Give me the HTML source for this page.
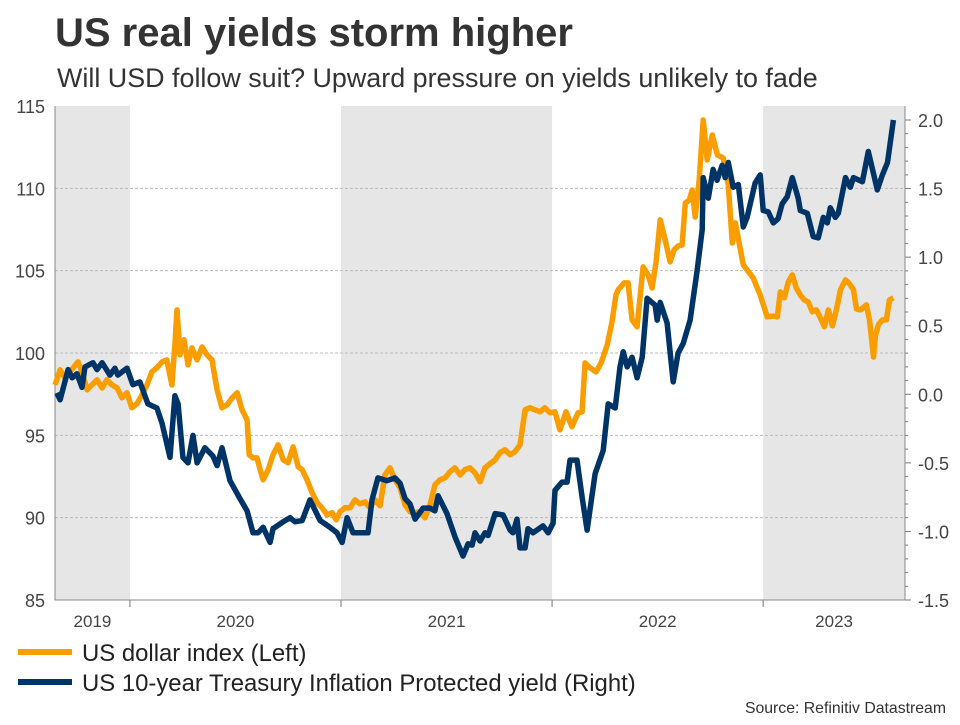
<!DOCTYPE html>
<html><head><meta charset="utf-8"><style>
body{margin:0;background:#fff;width:960px;height:720px;overflow:hidden;font-family:"Liberation Sans",sans-serif}
</style></head><body>
<svg id="chart" width="960" height="720" viewBox="0 0 960 720" xmlns="http://www.w3.org/2000/svg" font-family="Liberation Sans, sans-serif">
<text x="55" y="46" font-size="40" font-weight="bold" fill="#333">US real yields storm higher</text>
<text x="57" y="87" font-size="26.9" fill="#333">Will USD follow suit? Upward pressure on yields unlikely to fade</text>
<g id="plot"></g>
<g>
<line x1="18" y1="652" x2="72" y2="652" stroke="#f99d00" stroke-width="6"/>
<text x="82" y="661" font-size="23.9" fill="#222">US dollar index (Left)</text>
<line x1="18" y1="682" x2="72" y2="682" stroke="#003466" stroke-width="6"/>
<text x="82" y="691" font-size="23.9" fill="#222">US 10-year Treasury Inflation Protected yield (Right)</text>
</g>
<text x="946" y="713" font-size="15.8" fill="#333" text-anchor="end">Source: Refinitiv Datastream</text>
</svg>
<script>
const usdDates=[2019.645,2019.669,2019.692,2019.716,2019.754,2019.773,2019.797,2019.820,2019.844,2019.868,2019.891,2019.915,2019.939,2019.962,2019.986,2020.009,2020.033,2020.057,2020.081,2020.104,2020.128,2020.152,2020.175,2020.199,2020.213,2020.223,2020.237,2020.256,2020.275,2020.294,2020.318,2020.342,2020.365,2020.389,2020.413,2020.436,2020.460,2020.484,2020.508,2020.531,2020.555,2020.565,2020.583,2020.602,2020.617,2020.631,2020.655,2020.678,2020.702,2020.726,2020.749,2020.773,2020.797,2020.816,2020.839,2020.863,2020.887,2020.910,2020.934,2020.958,2020.977,2020.995,2021.019,2021.043,2021.066,2021.090,2021.114,2021.137,2021.161,2021.185,2021.208,2021.232,2021.256,2021.280,2021.303,2021.327,2021.351,2021.374,2021.398,2021.422,2021.445,2021.469,2021.493,2021.516,2021.540,2021.564,2021.587,2021.611,2021.635,2021.659,2021.682,2021.706,2021.730,2021.753,2021.777,2021.801,2021.824,2021.848,2021.872,2021.895,2021.919,2021.943,2021.966,2021.990,2022.014,2022.037,2022.066,2022.094,2022.123,2022.142,2022.156,2022.180,2022.208,2022.232,2022.261,2022.284,2022.303,2022.313,2022.341,2022.360,2022.379,2022.403,2022.431,2022.455,2022.474,2022.493,2022.512,2022.536,2022.559,2022.578,2022.597,2022.616,2022.631,2022.650,2022.664,2022.678,2022.697,2022.716,2022.735,2022.759,2022.783,2022.811,2022.835,2022.854,2022.868,2022.906,2022.953,2022.986,2023.019,2023.048,2023.067,2023.081,2023.100,2023.119,2023.138,2023.157,2023.176,2023.195,2023.214,2023.233,2023.252,2023.271,2023.290,2023.309,2023.328,2023.347,2023.366,2023.390,2023.409,2023.428,2023.442,2023.461,2023.489,2023.504,2023.523,2023.532,2023.546,2023.565,2023.584,2023.598,2023.617];
const usdValues=[98.06,98.98,98.49,98.85,99.46,98.85,97.76,98.06,98.37,97.88,98.37,98.06,97.88,97.28,97.58,96.67,96.91,97.46,98.06,98.85,99.10,99.46,99.58,98.06,100.49,102.62,99.89,100.80,99.28,100.31,99.58,100.37,99.89,99.58,97.76,96.67,96.85,97.28,97.58,96.55,95.94,93.82,93.63,93.63,92.91,92.30,92.91,93.82,94.42,93.51,93.33,94.30,93.09,92.91,92.30,91.51,90.90,90.60,90.17,90.30,89.87,90.36,90.60,90.60,91.08,90.84,90.96,90.60,91.08,90.72,92.60,93.03,92.30,91.81,90.78,90.36,90.30,90.36,89.99,90.78,91.99,92.30,92.42,92.78,93.03,92.60,92.91,93.03,92.72,92.18,93.03,93.27,93.51,93.94,94.12,93.82,94.00,94.42,96.55,96.67,96.55,96.43,96.67,96.37,96.43,95.33,96.43,95.52,96.37,96.43,99.40,99.10,98.85,99.40,100.49,101.89,103.53,103.83,104.26,104.26,102.01,101.59,105.23,104.74,103.95,105.53,108.08,106.87,105.53,106.26,106.50,106.56,109.11,109.29,109.90,108.26,110.51,114.15,111.72,113.24,112.03,111.84,110.20,106.68,107.90,105.35,104.56,103.53,102.19,102.25,102.19,103.71,103.35,104.32,104.74,103.95,103.53,103.22,103.10,102.50,102.62,102.13,101.59,102.62,101.65,102.62,103.83,104.44,104.20,103.83,102.68,102.62,102.92,102.01,99.76,101.04,101.71,102.01,102.01,103.22,103.35];
const tipsDates=[2019.654,2019.669,2019.707,2019.726,2019.749,2019.773,2019.787,2019.825,2019.844,2019.868,2019.905,2019.929,2019.943,2019.986,2020.014,2020.047,2020.085,2020.128,2020.152,2020.190,2020.213,2020.228,2020.251,2020.275,2020.299,2020.318,2020.355,2020.393,2020.413,2020.436,2020.474,2020.521,2020.555,2020.583,2020.607,2020.631,2020.664,2020.678,2020.726,2020.759,2020.782,2020.816,2020.853,2020.901,2020.948,2020.981,2021.005,2021.029,2021.057,2021.104,2021.128,2021.147,2021.175,2021.218,2021.256,2021.280,2021.303,2021.327,2021.351,2021.389,2021.422,2021.445,2021.460,2021.502,2021.540,2021.578,2021.602,2021.621,2021.635,2021.659,2021.682,2021.697,2021.730,2021.768,2021.801,2021.815,2021.834,2021.848,2021.872,2021.886,2021.910,2021.957,2021.981,2022.005,2022.014,2022.047,2022.071,2022.085,2022.118,2022.142,2022.166,2022.204,2022.242,2022.266,2022.299,2022.322,2022.337,2022.356,2022.379,2022.403,2022.427,2022.450,2022.488,2022.498,2022.512,2022.545,2022.574,2022.597,2022.621,2022.654,2022.687,2022.711,2022.716,2022.740,2022.763,2022.782,2022.806,2022.820,2022.835,2022.858,2022.882,2022.906,2022.924,2022.962,2022.986,2023.000,2023.024,2023.048,2023.071,2023.090,2023.114,2023.138,2023.166,2023.176,2023.209,2023.237,2023.261,2023.285,2023.304,2023.318,2023.342,2023.356,2023.390,2023.413,2023.428,2023.470,2023.498,2023.541,2023.565,2023.589,2023.617];
const tipsValues=[0.01,-0.04,0.18,0.12,0.15,0.05,0.20,0.23,0.18,0.23,0.14,0.19,0.14,0.19,0.07,0.09,-0.07,-0.10,-0.21,-0.46,-0.01,-0.07,-0.46,-0.50,-0.30,-0.50,-0.39,-0.45,-0.52,-0.39,-0.63,-0.76,-0.85,-1.01,-1.01,-0.97,-1.08,-0.98,-0.93,-0.90,-0.93,-0.92,-0.77,-0.92,-0.97,-1.01,-1.08,-0.90,-1.01,-1.01,-1.01,-0.77,-0.61,-0.63,-0.61,-0.65,-0.76,-0.80,-0.91,-0.83,-0.83,-0.85,-0.74,-0.87,-1.04,-1.18,-1.09,-1.10,-1.01,-1.07,-1.01,-1.03,-0.87,-0.88,-0.99,-1.01,-0.91,-1.12,-1.12,-0.98,-1.01,-0.96,-1.01,-0.94,-0.70,-0.64,-0.64,-0.48,-0.48,-0.75,-0.99,-0.58,-0.41,-0.07,-0.10,0.20,0.31,0.20,0.27,0.12,0.27,0.70,0.65,0.54,0.67,0.52,0.09,0.30,0.37,0.54,0.90,1.20,1.58,1.43,1.64,1.56,1.67,1.58,1.69,1.51,1.53,1.22,1.29,1.54,1.60,1.34,1.33,1.25,1.28,1.39,1.44,1.58,1.43,1.34,1.32,1.15,1.14,1.29,1.25,1.36,1.29,1.32,1.58,1.51,1.58,1.55,1.77,1.49,1.60,1.69,2.00];
const leftTicks=[85,90,95,100,105,110,115];
const rightTicks=[-1.5,-1.0,-0.5,0.0,0.5,1.0,1.5,2.0];
const rightTickLabels=["-1.5","-1.0","-0.5","0.0","0.5","1.0","1.5","2.0"];
const yearLabels=["2019","2020","2021","2022","2023"];
const yearStarts=[2019,2020,2021,2022,2023];
const shadedYears=[2019,2021,2023];

const L=55,R=905,T=106,B=600,x0=2019.645,x1=2023.672;
const xs=t=>L+(t-x0)/(x1-x0)*(R-L);
const yl=v=>B-(v-85)/30*(B-T);
const yr=v=>B-(v+1.5)/3.5*(B-120);
const NS='http://www.w3.org/2000/svg';
const g=document.getElementById('plot');
function mk(tag,attrs){const e=document.createElementNS(NS,tag);for(const k in attrs)e.setAttribute(k,attrs[k]);g.appendChild(e);return e;}
shadedYears.forEach(yy=>{
  const a=Math.max(L,xs(yy)),b=Math.min(R,xs(yy+1));
  const r=mk('rect',{x:a,y:T,width:b-a,height:B-T,fill:'#e6e6e6'});
  
  
});
leftTicks.forEach((v,i)=>{
  if(v>85&&v<115){const l=mk('line',{x1:L,x2:R,y1:yl(v),y2:yl(v),stroke:'#bbb','stroke-dasharray':'3,2','stroke-width':1});
  
  }
  const t=mk('text',{x:45,y:yl(v)+7,'font-size':18,fill:'#444','text-anchor':'end'});t.textContent=v;
  
  
});
rightTicks.forEach((v,i)=>{
  const t=mk('text',{x:918,y:yr(v)+7,'font-size':18,fill:'#444'});t.textContent=rightTickLabels[i];
  
  
  const k=mk('line',{x1:R,x2:R+6,y1:yr(v),y2:yr(v),stroke:'#777'});
  
  
  if(i<rightTicks.length-1){for(let j=1;j<5;j++){const m=mk('line',{x1:R,x2:R+3,y1:yr(v+j*0.1),y2:yr(v+j*0.1),stroke:'#777'});
  
  }}
});
yearLabels.forEach((s,i)=>{
  const a=Math.max(L,xs(yearStarts[i])),b=Math.min(R,xs(yearStarts[i]+1));
  const t=mk('text',{x:(a+b)/2,y:627,'font-size':17,fill:'#444','text-anchor':'middle'});t.textContent=s;
  
  
  if(i>0){const k=mk('line',{x1:xs(yearStarts[i]),x2:xs(yearStarts[i]),y1:B,y2:B+7,stroke:'#777'});
  
  }
});
const ax=mk('path',{d:`M${L},${T}V${B}H${R}V${T}`,fill:'none',stroke:'#888','stroke-width':1});


const pd=(d,v,f)=>d.map((t,i)=>(i?'L':'M')+xs(t).toFixed(1)+','+f(v[i]).toFixed(1)).join('');
const p1=mk('path',{d:pd(usdDates,usdValues,yl),fill:'none',stroke:'#f99d00','stroke-width':5.5,'stroke-linejoin':'round'});


const p2=mk('path',{d:pd(tipsDates,tipsValues,yr),fill:'none',stroke:'#003466','stroke-width':5.5,'stroke-linejoin':'round'});


</script>
</body></html>
